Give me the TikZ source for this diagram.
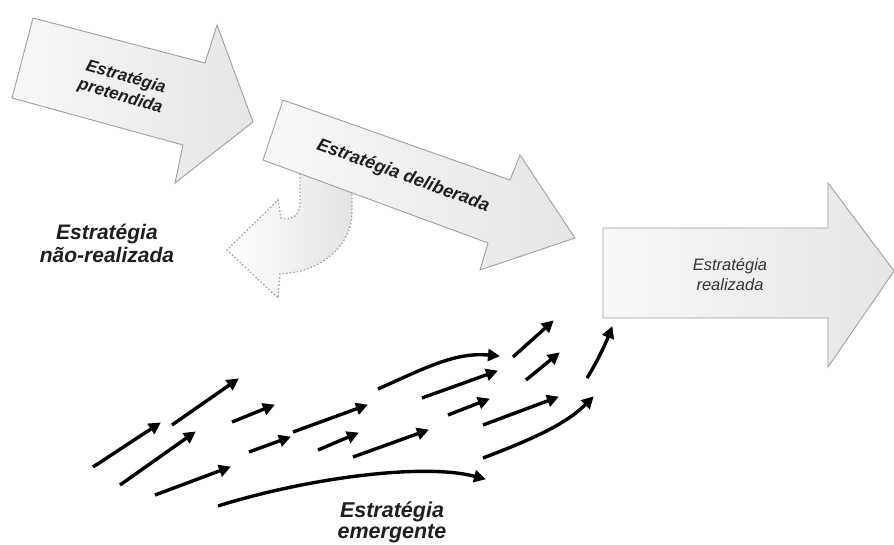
\documentclass[tikz,border=0pt]{standalone}
\usepackage{fontspec}
\setmainfont{Liberation Sans}
\usetikzlibrary{arrows.meta}
\begin{document}
\begin{tikzpicture}[x=1pt,y=-1pt,
  bigarrow/.style={draw=gray!75, line width=0.9pt, line join=miter, left color=gray!6, right color=gray!20},
  lostarrow/.style={draw=gray!75, line width=1.3pt, dash pattern=on 1.4pt off 2.2pt, left color=white, right color=gray!22},
  flow/.style={line width=3.4pt, -{Triangle[length=12pt,width=12pt]}, shorten >=-1pt},
  boldlbl/.style={font=\bfseries\itshape, text=black!88, align=center, inner sep=0pt},
  plainlbl/.style={font=\itshape, text=black!80, align=center, inner sep=0pt}]
\useasboundingbox (0,0) rectangle (894,544);
\fill[white] (0,0) rectangle (894,544);

% unrealized (dashed) curved arrow
\path[lostarrow] (300,170) -- (300,203) .. controls (300,216) and (291,221) .. (281,218)
  -- (278,200) -- (227,250) -- (278,298) -- (280,274)
  .. controls (322,272) and (352,245) .. (352,212) -- (352,188) -- cycle;

% intended strategy
\path[bigarrow] (33,18) -- (205,63) -- (217,25) -- (253,122) -- (175,183) -- (183,145) -- (12,98) -- cycle;
\node[boldlbl, font=\fontsize{17}{20}\selectfont\bfseries\itshape, rotate=-16] (pret) at (123,87) {Estratégia\\pretendida};

% deliberate strategy
\path[bigarrow] (283,100) -- (510,180) -- (520,155) -- (575,238) -- (480,270) -- (488,243) -- (263,160) -- cycle;
\node[boldlbl, font=\fontsize{18}{20}\selectfont\bfseries\itshape, rotate=-20] (delib) at (403,176) {Estratégia deliberada};

% realized strategy
\path[bigarrow] (603,228) -- (828,228) -- (828,183) -- (894,271) -- (828,367) -- (828,318) -- (603,318) -- cycle;
\node[plainlbl, font=\fontsize{16.5}{20}\selectfont\itshape] (real) at (730,275) {Estratégia\\realizada};

% labels
\node[boldlbl, font=\fontsize{21}{23}\selectfont\bfseries\itshape] (nreal) at (107,243) {Estratégia\\não-realizada};
\node[boldlbl, font=\fontsize{21.5}{21}\selectfont\bfseries\itshape] (emerg) at (392,522) {Estratégia\\emergente};

% emergent arrows
\coordinate (a1s) at (93,467);  \coordinate (a1e) at (160,423);
\coordinate (a2s) at (172,425); \coordinate (a2e) at (238,379);
\coordinate (a3s) at (120,485); \coordinate (a3e) at (195,432);
\coordinate (a4s) at (232,422); \coordinate (a4e) at (274,405);
\coordinate (a5s) at (155,495); \coordinate (a5e) at (230,467);
\coordinate (a6s) at (249,452); \coordinate (a6e) at (290,437);
\coordinate (a7s) at (293,432); \coordinate (a7e) at (367,405);
\coordinate (a8s) at (318,450); \coordinate (a8e) at (358,433);
\coordinate (a9s) at (353,457); \coordinate (a9e) at (428,430);
\coordinate (a10s) at (218,506); \coordinate (a10e) at (485,479);
\coordinate (a11s) at (378,389); \coordinate (a11e) at (499,356);
\coordinate (a12s) at (422,398); \coordinate (a12e) at (497,371);
\coordinate (a13s) at (448,415); \coordinate (a13e) at (489,399);
\coordinate (a14s) at (483,425); \coordinate (a14e) at (558,397);
\coordinate (a15s) at (483,458); \coordinate (a15e) at (593,397);
\coordinate (a16s) at (513,357); \coordinate (a16e) at (553,321);
\coordinate (a17s) at (526,380); \coordinate (a17e) at (559,353);
\coordinate (a18s) at (587,378); \coordinate (a18e) at (612,327);

\draw[flow] (a1s) -- (a1e);
\draw[flow] (a2s) -- (a2e);
\draw[flow] (a3s) -- (a3e);
\draw[flow] (a4s) -- (a4e);
\draw[flow] (a5s) -- (a5e);
\draw[flow] (a6s) -- (a6e);
\draw[flow] (a7s) -- (a7e);
\draw[flow] (a8s) -- (a8e);
\draw[flow] (a9s) -- (a9e);
\draw[flow] (a10s) .. controls (300,480) and (420,462) .. (a10e);
\draw[flow] (a11s) .. controls (425,368) and (455,352) .. (a11e);
\draw[flow] (a12s) -- (a12e);
\draw[flow] (a13s) -- (a13e);
\draw[flow] (a14s) -- (a14e);
\draw[flow] (a15s) .. controls (530,440) and (565,425) .. (a15e);
\draw[flow] (a16s) -- (a16e);
\draw[flow] (a17s) -- (a17e);
\draw[flow] (a18s) .. controls (597,362) and (605,345) .. (a18e);
\end{tikzpicture}
\end{document}
